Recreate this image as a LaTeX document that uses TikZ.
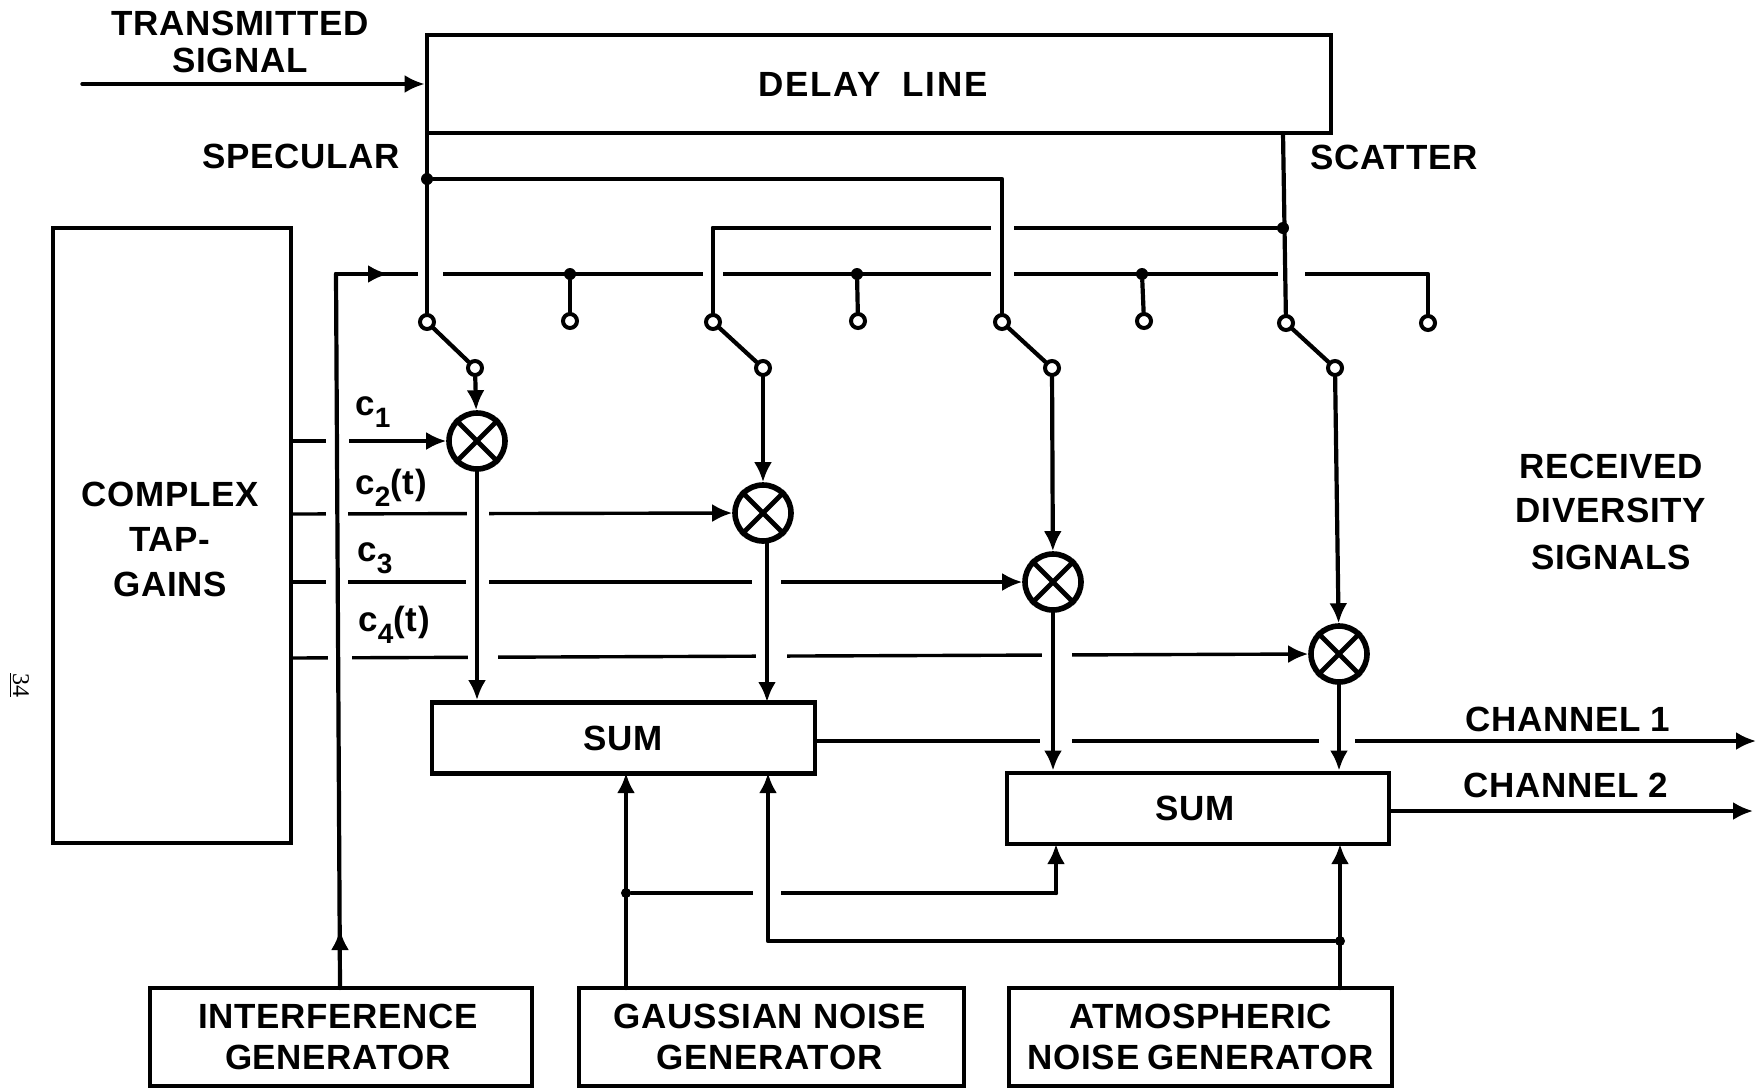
\documentclass[tikz,border=0pt]{standalone}
\usepackage{fontspec}
\setmainfont[LetterSpace=2]{Liberation Sans}
\newfontfamily\pagefont{Liberation Serif}
\newfontfamily\widefont[LetterSpace=5]{Liberation Sans}
\usetikzlibrary{arrows.meta,calc}
\newcommand{\csub}[1]{c\raisebox{-6pt}{\fontsize{14}{14}\selectfont #1}}
\tikzset{
  every node/.style={font=\fontsize{17.5}{19.5}\selectfont\bfseries, text=black},
  line/.style={line width=1.7pt, draw=black, line cap=round, line join=round},
  main/.style={line, line width=2.1pt},
  heavy/.style={line width=2.4pt, draw=black, line join=miter},
  arr/.style={line, -{Latex[length=10pt,width=9pt]}},
  box/.style={rectangle, heavy, fill=white, inner sep=0pt, align=center},
  ring/.style={circle, draw=black, fill=white, line width=2pt, inner sep=0pt, minimum size=7pt},
  dot/.style={circle, fill=black, inner sep=0pt, minimum size=6pt},
  mult/.style={circle, draw=black, line width=2.8pt, fill=white, inner sep=0pt, minimum size=28pt},
  lab/.style={inner sep=0pt, align=center},
  gapmark/.style={fill=white, draw=none},
}
\newcommand{\linegap}[3]{\fill[gapmark] (#1,#3-5) rectangle (#2,#3+5);}
\begin{document}
\begin{tikzpicture}[x=0.5pt,y=-0.5pt]
\useasboundingbox (0,0) rectangle (1756,1088);
\fill[white] (0,0) rectangle (1756,1088);

% blocks
\node[box,minimum width=452pt,minimum height=49pt] (delay) at (879,84) {\hspace*{-6pt}\widefont DELAY\hspace{11pt}LINE};
\node[box,minimum width=119pt,minimum height=307.5pt] (tapgains) at (172,535.5) {};
\node[box,minimum width=191.5pt,minimum height=35.5pt] (sumA) at (623.5,738) {SUM};
\node[box,minimum width=191pt,minimum height=35.5pt] (sumB) at (1198,808.5) {\hspace*{-3pt}SUM};
\node[box,minimum width=191pt,minimum height=49pt] (interf) at (341,1037) {\hspace*{-3pt}INTERFERENCE\\[1pt]\hspace*{-3pt}GENERATOR};
\node[box,minimum width=192.5pt,minimum height=49pt] (gauss) at (771.5,1037) {\hspace*{-2pt}GAUSSIAN NOISE\\[1pt]\hspace*{-2pt}GENERATOR};
\node[box,minimum width=191.5pt,minimum height=49pt] (atmos) at (1200.5,1037) {ATMOSPHERIC\\[1pt]NOISE\hspace{4pt}GENERATOR};

% switch rings, tap dots, multipliers, junctions
\node[ring] (swAin) at (427,322) {};
\node[ring] (swBin) at (713,322) {};
\node[ring] (swCin) at (1002,322) {};
\node[ring] (swDin) at (1286,323) {};
\node[ring] (swAout) at (475,368) {};
\node[ring] (swBout) at (763,368) {};
\node[ring] (swCout) at (1052,368) {};
\node[ring] (swDout) at (1335,368) {};
\node[ring] (tapA) at (570,321) {};
\node[ring] (tapB) at (858,321) {};
\node[ring] (tapC) at (1144,321) {};
\node[ring] (tapD) at (1428,323) {};
\node[dot] (dotA) at (570,274) {};
\node[dot] (dotB) at (857,274) {};
\node[dot] (dotC) at (1142,274) {};
\node[dot] (jSpec) at (427,179) {};
\node[dot] (jScat) at (1283,228) {};
\node[dot,minimum size=5pt] (jGauss) at (626,893) {};
\node[dot,minimum size=5pt] (jAtmos) at (1340,941) {};
\node[mult] (mA) at (477,441) {};
\node[mult] (mB) at (763,513) {};
\node[mult] (mC) at (1053,582) {};
\node[mult] (mD) at (1339,654) {};

% free ends and corners
\coordinate (txIn) at (82,84);
\coordinate (specTop) at (427,133);
\coordinate (scatTop) at (1283,133);
\coordinate (scatCorner) at (713,228);
\coordinate (intStart) at (340,988);
\coordinate (intMid) at (340,930);
\coordinate (intCorner) at (336,274);
\coordinate (tapArrow) at (388,274);
\coordinate (tapEnd) at (1428,274);
\coordinate (gaussStart) at (626,988);
\coordinate (atmosStart) at (1340,988);
\coordinate (gaussUp) at (626,773);
\coordinate (atmosUpA) at (768,773);
\coordinate (gaussUpB) at (1056,844);
\coordinate (atmosUpB) at (1340,844);
\coordinate (outA) at (1756,741);
\coordinate (outB) at (1753,811);
\coordinate (gA) at (291,441);
\coordinate (gB) at (291,514);
\coordinate (gC) at (291,582);
\coordinate (gD) at (291,658);

% horizontal lines, which are broken where they cross a vertical line
\draw[main] (jScat) -- (scatCorner);
\linegap{991}{1014}{228}
\draw[main] (intCorner) -- (tapEnd) -- (tapD);
\draw[arr] (intCorner) -- (tapArrow);
\linegap{418}{443}{274}
\linegap{703}{723}{274}
\linegap{991}{1014}{274}
\linegap{1278}{1305}{274}
\draw[arr] (gA) -- (mA.west);
\linegap{326}{349}{441}
\draw[arr] (gB) -- (mB.west);
\linegap{326}{348}{514}
\linegap{467}{489}{514}
\draw[arr] (gC) -- (mC.west);
\linegap{326}{348}{582}
\linegap{466}{489}{582}
\linegap{752}{781}{582}
\draw[arr] (gD) -- (mD.west);
\linegap{328}{352}{658}
\linegap{468}{498}{658}
\linegap{756}{787}{658}
\linegap{1042}{1072}{658}
\draw[arr] (sumA.east |- outA) -- (outA);
\linegap{1040}{1072}{741}
\linegap{1319}{1355}{741}
\draw[arr] (sumB.east |- outB) -- (outB);
\draw[main] (jGauss) -- (jGauss -| gaussUpB);
\linegap{753}{781}{893}

% vertical lines
\draw[main] (scatCorner) -- (swBin);
\draw[main] (jSpec) -| (swCin);
\draw[main] (specTop) -- (swAin);
\draw[main] (scatTop) -- (swDin);
\draw[main] (intStart) -- (intCorner);
\draw[main] (dotA) -- (tapA);
\draw[main] (dotB) -- (tapB);
\draw[main] (dotC) -- (tapC);
\draw[main] (swAin) -- (swAout);
\draw[main] (swBin) -- (swBout);
\draw[main] (swCin) -- (swCout);
\draw[main] (swDin) -- (swDout);
\draw[arr,main] (swAout) -- (mA);
\draw[arr,main] (swBout) -- (mB);
\draw[arr,main] (swCout) -- (mC);
\draw[arr,main] (swDout) -- (mD);
\draw[arr,main] (mA.south) -- (mA.south |- sumA.north);
\draw[arr,main] (mB.south) ++(4,0) -- (767,702);
\draw[arr,main] (mC.south) -- (mC.south |- sumB.north);
\draw[arr,main] (mD.south) -- (mD.south |- sumB.north);
\draw[arr,main] (gaussStart) -- (gaussUp);
\draw[arr,main] (atmosStart) -- (atmosUpB);
\draw[arr,main] (jGauss -| gaussUpB) -- (gaussUpB);
\draw[arr,main] (jAtmos) -| (atmosUpA);
\draw[arr] (intStart) -- (intMid);
\draw[arr] (txIn) -- (delay.west);

% crosses inside the multipliers
\foreach \m in {mA,mB,mC,mD}{
  \draw[heavy,line cap=butt] (\m.45) -- (\m.225) (\m.135) -- (\m.315);
}

% labels
\node[lab] (ltx) at (240,42) {TRANSMITTED\\[-1pt]SIGNAL};
\node[lab] (lspec) at (301,156) {SPECULAR};
\node[lab] (lscat) at (1394,157) {SCATTER};
\node[lab] (lgains) at (170,539) {COMPLEX\\[3pt]TAP-\\[3pt]GAINS};
\node[lab,anchor=west] (lcA) at (355,412) {\csub{1}};
\node[lab,anchor=west] (lcB) at (355,488) {\csub{2}(t)};
\node[lab,anchor=west] (lcC) at (357,558) {\csub{3}};
\node[lab,anchor=west] (lcD) at (358,625) {\csub{4}(t)};
\node[lab] (lrecv) at (1611,512) {RECEIVED\\[2.5pt]DIVERSITY\\[4pt]SIGNALS};
\node[lab] (lchA) at (1568,719) {CHANNEL\hspace{5pt}1};
\node[lab] (lchB) at (1566,785) {CHANNEL\hspace{5pt}2};
\node[lab,rotate=-90,font=\pagefont\fontsize{12}{12}\selectfont] (lpage) at (19,685) {\underline{34}};
\end{tikzpicture}
\end{document}
